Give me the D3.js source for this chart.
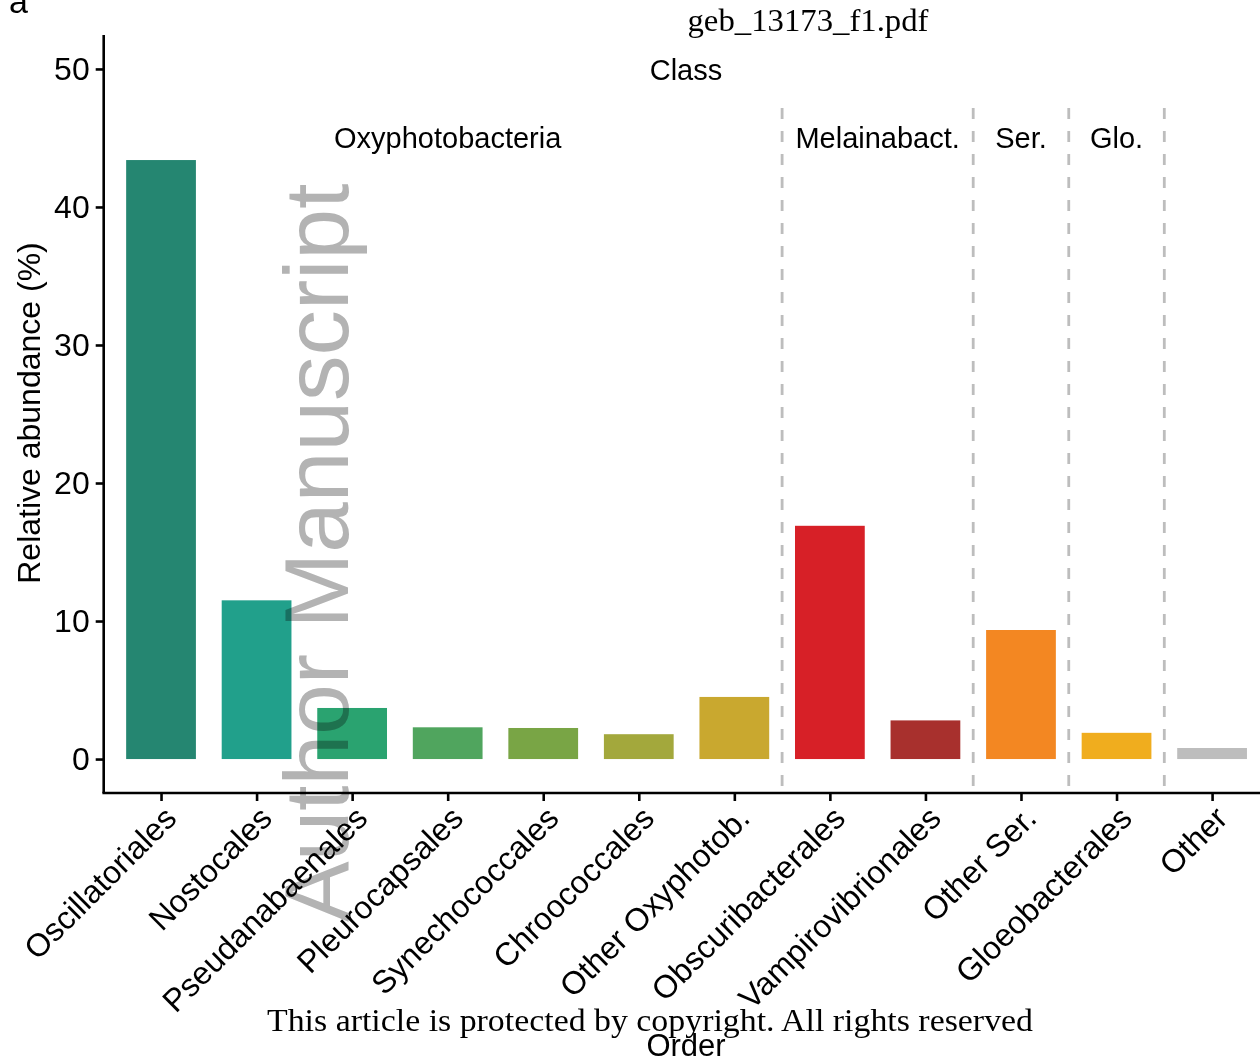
<!DOCTYPE html>
<html>
<head>
<meta charset="utf-8">
<script src="https://cdn.jsdelivr.net/npm/d3@7"></script>
<style>
  html, body { margin: 0; padding: 0; background: #fff; }
  svg { display: block; }
  .sans { font-family: "Liberation Sans", Arial, Helvetica, sans-serif; }
  .serif { font-family: "Liberation Serif", "DejaVu Serif", serif; }
</style>
</head>
<body>
<script>
// Orders of Cyanobacteria and their relative abundance (%)
const orders = ["Oscillatoriales", "Nostocales", "Pseudanabaenales", "Pleurocapsales",
  "Synechococcales", "Chroococcales", "Other Oxyphotob.", "Obscuribacterales",
  "Vampirovibrionales", "Other Ser.", "Gloeobacterales", "Other"];
const abundance = [43.4, 11.5, 3.7, 2.3, 2.25, 1.8, 4.5, 16.9, 2.8, 9.35, 1.9, 0.8];
const barColors = ["#258671", "#21a08b", "#2aa370", "#50a55e", "#79a545", "#a3a83c",
  "#c9a82f", "#d72027", "#a8302d", "#f38722", "#f0ad1e", "#bdbdbd"];

// Class groups: label and the index range of orders they cover
const classLabels = ["Oxyphotobacteria", "Melainabact.", "Ser.", "Glo."];
const classStart = [0, 7, 9, 10];
const classEnd = [6, 8, 9, 10];
// Dashed separators sit between these order positions
const separatorsAfter = [6, 8, 9, 10];

const yTicks = [0, 10, 20, 30, 40, 50];

const W = 1260, H = 1057;
const svg = d3.select("body").append("svg").attr("width", W).attr("height", H);

// Discrete positions (1-based) with ggplot-style 0.6 expansion
const x = d3.scaleLinear().domain([0.4, 12.6]).range([103.7, 103.7 + 12.2 * 95.55]);
const y = d3.scaleLinear().domain([-2.46, 52.46]).range([793, 35]);
const barW = 0.73;

// Bars
svg.append("g").selectAll("rect").data(abundance).join("rect")
  .attr("x", (d, i) => x(i + 1 - barW / 2))
  .attr("width", (d, i) => x(i + 1 + barW / 2) - x(i + 1 - barW / 2))
  .attr("y", d => y(d))
  .attr("height", d => y(0) - y(d))
  .attr("fill", (d, i) => barColors[i]);

// Class separators
svg.append("g").selectAll("line").data(separatorsAfter).join("line")
  .attr("x1", d => x(d + 1.5)).attr("x2", d => x(d + 1.5))
  .attr("y1", 108).attr("y2", 793)
  .attr("stroke", "#bdbdbd").attr("stroke-width", 2.8)
  .attr("stroke-dasharray", "11,12");

// Class labels
svg.append("g").selectAll("text").data(classLabels).join("text")
  .attr("class", "sans")
  .attr("x", (d, i) => x((classStart[i] + classEnd[i]) / 2 + 1))
  .attr("y", 148)
  .attr("text-anchor", "middle")
  .attr("font-size", 29)
  .attr("fill", "#000")
  .text(d => d);

svg.append("text").attr("class", "sans")
  .attr("x", 686).attr("y", 80).attr("text-anchor", "middle")
  .attr("font-size", 29).text("Class");

// Y axis
const yAxis = d3.axisLeft(y).tickValues(yTicks).tickSize(8).tickPadding(6);
const gy = svg.append("g").attr("transform", "translate(103.7,0)").call(yAxis);
gy.select(".domain").attr("d", `M0,${y(52.46)}V${y(-2.46)}`).attr("stroke-width", 2.6);
gy.selectAll(".tick line").attr("stroke-width", 2.6);
gy.selectAll(".tick text").attr("class", "sans").attr("font-size", 32).attr("fill", "#000");

// X axis
const xAxis = d3.axisBottom(x).tickValues(d3.range(1, 13)).tickSize(8).tickFormat(() => "");
const gx = svg.append("g").attr("transform", "translate(0,793)").call(xAxis);
gx.select(".domain").attr("d", `M102.4,0H${W}`).attr("stroke-width", 2.6);
gx.selectAll(".tick line").attr("stroke-width", 2.6);

svg.append("g").selectAll("text").data(orders).join("text")
  .attr("class", "sans")
  .attr("transform", (d, i) => `translate(${x(i + 1) + 1},${804}) rotate(-45)`)
  .attr("text-anchor", "end")
  .attr("dy", "0.72em")
  .attr("font-size", 32)
  .attr("fill", "#000")
  .text(d => d);

// Axis titles
svg.append("text").attr("class", "sans")
  .attr("transform", "translate(40,413) rotate(-90)")
  .attr("text-anchor", "middle").attr("font-size", 32).text("Relative abundance (%)");

svg.append("text").attr("class", "sans")
  .attr("x", 686).attr("y", 1056).attr("text-anchor", "middle")
  .attr("font-size", 31).text("Order");

// Panel tag
svg.append("text").attr("class", "sans")
  .attr("x", 9).attr("y", 13).attr("font-size", 34).text("a");

// Manuscript watermark and page notes
svg.append("text").attr("class", "sans")
  .attr("transform", "translate(348,922) rotate(-90)")
  .attr("font-size", 91)
  .attr("fill", "#b3b3b3")
  .style("mix-blend-mode", "multiply")
  .text("Author Manuscript");

svg.append("text").attr("class", "serif")
  .attr("x", 808).attr("y", 31).attr("text-anchor", "middle")
  .attr("font-size", 31)
  .attr("textLength", 241).attr("lengthAdjust", "spacingAndGlyphs")
  .text("geb_13173_f1.pdf");

svg.append("text").attr("class", "serif")
  .attr("x", 650).attr("y", 1031).attr("text-anchor", "middle")
  .attr("font-size", 31)
  .attr("textLength", 766).attr("lengthAdjust", "spacingAndGlyphs")
  .text("This article is protected by copyright. All rights reserved");
</script>
</body>
</html>
